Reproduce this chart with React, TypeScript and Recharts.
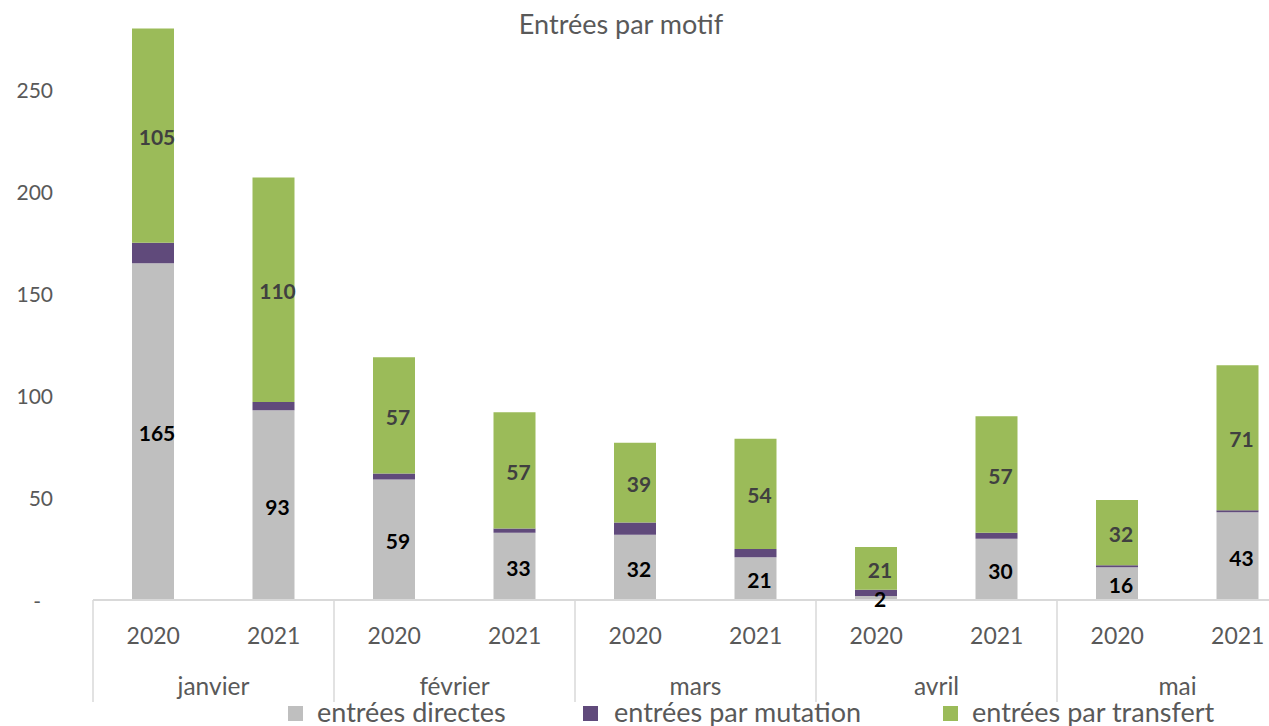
import React from 'react';
import { BarChart, Bar, XAxis, YAxis, LabelList } from 'recharts';

const months = ['janvier', 'janvier', 'février', 'février', 'mars', 'mars', 'avril', 'avril', 'mai', 'mai'];
const years = ['2020', '2021', '2020', '2021', '2020', '2021', '2020', '2021', '2020', '2021'];
const directes = [165, 93, 59, 33, 32, 21, 2, 30, 16, 43];
const mutation = [10, 4, 3, 2, 6, 4, 3, 3, 1, 1];
const transfert = [105, 110, 57, 57, 39, 54, 21, 57, 32, 71];
const yTicks = [0, 50, 100, 150, 200, 250];
const seriesNames = ['entrées directes', 'entrées par mutation', 'entrées par transfert'];
const colors = ['#BFBFBF', '#604A7B', '#9BBB59'];
const title = 'Entrées par motif';

const data = years.map((y, i) => ({
  idx: i,
  year: y,
  month: months[i],
  directes: directes[i],
  mutation: mutation[i],
  transfert: transfert[i],
}));

const FONT = 'Lato, "Open Sans", sans-serif';
const PLOT_LEFT = 93;
const PLOT_RIGHT = 1298;
const PLOT_BOTTOM = 600;
const BAND = (PLOT_RIGHT - PLOT_LEFT) / data.length;

const XTick = (props: any) => {
  const { x, payload } = props;
  const i = Number(payload.value);
  const els: any[] = [
    <text key="y" x={x} y={PLOT_BOTTOM + 35} textAnchor="middle" dominantBaseline="central" fill="#595959" fontSize={23} fontFamily={FONT}>
      {years[i]}
    </text>,
  ];
  if (i % 2 === 0) {
    els.push(
      <line key="l" x1={x - BAND / 2} x2={x - BAND / 2} y1={PLOT_BOTTOM} y2={PLOT_BOTTOM + 102} stroke="#D9D9D9" strokeWidth={1.5} />
    );
    els.push(
      <text key="m" x={x + BAND / 2} y={PLOT_BOTTOM + 85} textAnchor="middle" dominantBaseline="central" fill="#595959" fontSize={24.5} fontFamily={FONT}>
        {months[i]}
      </text>
    );
  }
  return <g>{els}</g>;
};

const YTick = (props: any) => {
  const { y, payload } = props;
  const v = payload.value;
  return (
    <text x={v === 0 ? 41 : 53} y={y} textAnchor="end" dominantBaseline="central" fill="#595959" fontSize={21} fontFamily={FONT}>
      {v === 0 ? '-' : String(v)}
    </text>
  );
};

const makeLabel = (fill: string) => (props: any) => {
  const { x, y, width, height, value } = props;
  return (
    <text x={x + width / 2 + 4} y={y + height / 2 + 1} textAnchor="middle" dominantBaseline="central" fill={fill} fontSize={21} fontWeight={700} fontFamily={FONT}>
      {value}
    </text>
  );
};

const legendPos = [{ sq: 288, tx: 317 }, { sq: 583, tx: 614 }, { sq: 943, tx: 972 }];

export default function App() {
  return (
    <div style={{ position: 'absolute', left: 0, top: 0, width: 1269, height: 726, overflow: 'hidden', background: '#fff' }}>
      <div style={{ position: 'absolute', left: 0, top: 7, width: 1242, textAlign: 'center', fontFamily: FONT, fontSize: 27, color: '#595959' }}>
        {title}
      </div>
      <BarChart width={1300} height={726} data={data} margin={{ top: 0, right: 2, bottom: 0, left: 0 }} barSize={42}>
        <XAxis dataKey="idx" type="category" height={126} axisLine={{ stroke: '#D9D9D9', strokeWidth: 2 }} tickLine={false} tick={<XTick />} interval={0} />
        <YAxis width={93} domain={[0, 294]} ticks={yTicks} axisLine={false} tickLine={false} tick={<YTick />} allowDataOverflow />
        <Bar dataKey="directes" stackId="a" fill={colors[0]} isAnimationActive={false} name={seriesNames[0]}>
          <LabelList dataKey="directes" content={makeLabel('#000000')} />
        </Bar>
        <Bar dataKey="mutation" stackId="a" fill={colors[1]} isAnimationActive={false} name={seriesNames[1]} />
        <Bar dataKey="transfert" stackId="a" fill={colors[2]} isAnimationActive={false} name={seriesNames[2]}>
          <LabelList dataKey="transfert" content={makeLabel('#404040')} />
        </Bar>
      </BarChart>
      {seriesNames.map((n, i) => (
        <React.Fragment key={n}>
          <div style={{ position: 'absolute', left: legendPos[i].sq, top: 706, width: 15, height: 15, background: colors[i] }} />
          <div style={{ position: 'absolute', left: legendPos[i].tx, top: 696, fontFamily: FONT, fontSize: 27, color: '#595959', whiteSpace: 'nowrap', lineHeight: '32px' }}>
            {n}
          </div>
        </React.Fragment>
      ))}
    </div>
  );
}
